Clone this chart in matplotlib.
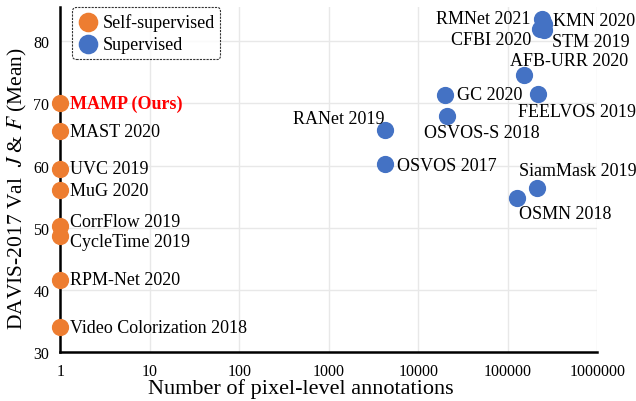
import matplotlib
matplotlib.use("Agg")
import matplotlib.pyplot as plt

plt.rcParams['font.family'] = ['Liberation Serif', 'DejaVu Serif']
plt.rcParams['mathtext.fontset'] = 'stix'

# self-supervised methods (no pixel-level annotations -> 1)
self_names = ["MAMP (Ours)", "MAST 2020", "UVC 2019", "MuG 2020", "CorrFlow 2019",
              "CycleTime 2019", "RPM-Net 2020", "Video Colorization 2018"]
self_ann = [1, 1, 1, 1, 1, 1, 1, 1]
self_jf = [70.0, 65.5, 59.5, 56.1, 50.3, 48.7, 41.6, 34.0]

# supervised methods
sup_names = ["RMNet 2021", "KMN 2020", "CFBI 2020", "STM 2019", "AFB-URR 2020",
             "GC 2020", "FEELVOS 2019", "RANet 2019", "OSVOS-S 2018",
             "OSVOS 2017", "SiamMask 2019", "OSMN 2018"]
sup_ann = [240000, 255000, 228000, 255000, 152000, 20000, 218000, 4200, 21000,
           4200, 214000, 126000]
sup_jf = [83.5, 82.8, 81.9, 81.8, 74.6, 71.4, 71.5, 65.7, 68.0, 60.3, 56.4, 54.8]

# label offsets in pixels (dx, dy, ha)
self_off = [(10, 0, 'left'), (10, 0, 'left'), (10, 0, 'left'), (10, -1, 'left'),
            (10, 4, 'left'), (10, -6, 'left'), (10, 0, 'left'), (10, 0, 'left')]
sup_off = [(-11, 1, 'right'), (9, 3, 'left'), (-9, -10, 'right'), (8, -11, 'left'),
           (-14, 14, 'left'), (12, 0, 'left'), (-20, -17, 'left'), (0, 12, 'right'),
           (-23, -17, 'left'), (12, -2, 'left'), (-18, 17, 'left'), (2, -16, 'left')]

orange = "#ED7D31"
blue = "#4472C4"

fig, ax = plt.subplots(figsize=(6.36, 4.02), dpi=100)
fig.subplots_adjust(left=0.095, right=0.939, top=0.98, bottom=0.122)

ax.scatter(self_ann, self_jf, s=130, color=orange, label="Self-supervised",
           zorder=3, clip_on=False)
ax.scatter(sup_ann, sup_jf, s=130, color=blue, label="Supervised",
           zorder=3, clip_on=False)

for i in range(len(self_names)):
    dx, dy, ha = self_off[i]
    if i == 0:
        ax.annotate(self_names[i], (self_ann[i], self_jf[i]), xytext=(dx, dy),
                    textcoords='offset pixels', ha=ha, va='center',
                    fontsize=13, color='red', fontweight='bold')
    else:
        ax.annotate(self_names[i], (self_ann[i], self_jf[i]), xytext=(dx, dy),
                    textcoords='offset pixels', ha=ha, va='center', fontsize=13)

for i in range(len(sup_names)):
    dx, dy, ha = sup_off[i]
    ax.annotate(sup_names[i], (sup_ann[i], sup_jf[i]), xytext=(dx, dy),
                textcoords='offset pixels', ha=ha, va='center', fontsize=13)

ax.set_xscale('log')
ax.set_xlim(1, 1000000)
ax.set_ylim(30, 85.5)
ax.set_xticks([1, 10, 100, 1000, 10000, 100000, 1000000])
ax.set_xticklabels(["1", "10", "100", "1000", "10000", "100000", "1000000"])
ax.set_yticks([30, 40, 50, 60, 70, 80])
ax.minorticks_off()
ax.tick_params(length=0, labelsize=11.5, pad=8)

ax.grid(True, color="#e8e8e8", linewidth=1)
ax.set_axisbelow(True)
for side in ['top', 'right']:
    ax.spines[side].set_visible(False)
for side in ['left', 'bottom']:
    ax.spines[side].set_linewidth(1.8)

ax.set_xlabel("Number of pixel-level annotations", fontsize=16)
ax.xaxis.set_label_coords(0.448, -0.076)
ax.set_ylabel(r"DAVIS-2017 Val  $J$ & $F$ (Mean)", fontsize=15.5)
ax.yaxis.set_label_coords(-0.059, 0.478)

leg = ax.legend(loc='upper left', bbox_to_anchor=(0.005, 1.025), fontsize=13,
                frameon=True, fancybox=True, handletextpad=0.2,
                borderpad=0.3, labelspacing=0.3, handlelength=1.2,
                markerscale=1.15)
leg.get_frame().set_edgecolor('black')
leg.get_frame().set_linestyle((0, (2, 1)))
leg.get_frame().set_linewidth(0.8)

fig.savefig("out.png", dpi=100)
